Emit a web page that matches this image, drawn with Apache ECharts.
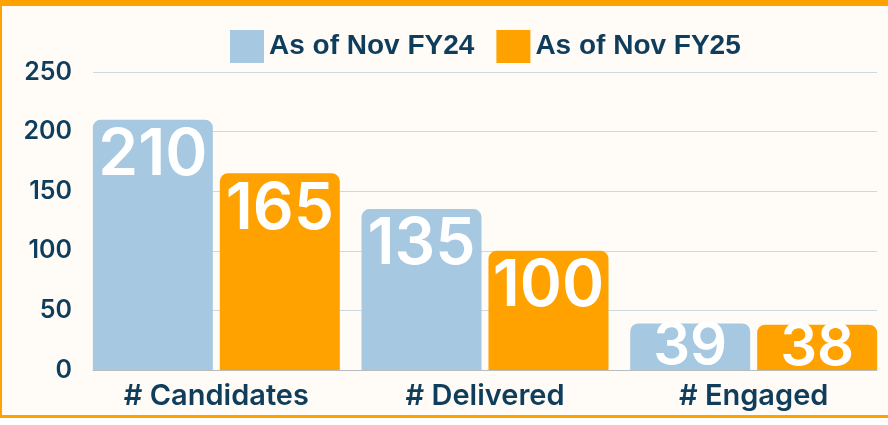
<!DOCTYPE html>
<html>
<head>
<meta charset="utf-8">
<script src="https://cdn.jsdelivr.net/npm/echarts@6/dist/echarts.min.js"></script>
<style>
    html, body { margin: 0; padding: 0; background: #ffffff; }
    #frame {
        position: absolute; left: 0; top: 0;
        width: 888px; height: 418px; box-sizing: border-box;
        background: #fffbf6;
        border-top: 6px solid #ffa200;
        border-left: 2px solid #ffa200;
        border-bottom: 3px solid #ffa200;
    }
    #main { position: absolute; left: 0; top: 0; width: 888px; height: 425px; }
</style>
</head>
<body>
<div id="frame"></div>
<div id="main"></div>
<script>
const categories = ['# Candidates', '# Delivered', '# Engaged'];
const seriesNames = ['As of Nov FY24', 'As of Nov FY25'];
const fy24 = [210, 135, 39];
const fy25 = [165, 100, 38];
const yTicks = [0, 50, 100, 150, 200, 250];

const navy = '#0f3d5c';
const colors = ['#a6c8e1', '#ffa200'];

function toItems (values) {
    // short bars get a smaller centred label
    return values.map(v => v < 50
        ? { value: v, label: { position: 'inside', fontSize: 58 } }
        : { value: v });
}

const myChart = echarts.init(document.getElementById('main'));
myChart.setOption({
    backgroundColor: 'transparent',
    color: colors,
    animation: false,
    legend: {
        data: seriesNames,
        left: 225,
        top: 25,
        itemWidth: 34,
        itemHeight: 33,
        itemGap: 22,
        icon: 'rect',
        textStyle: {
            color: navy,
            fontFamily: 'Liberation Sans, Arial, sans-serif',
            fontWeight: 'bold',
            fontSize: 28,
            padding: [0, 0, 0, 0]
        }
    },
    grid: [
        { left: 82, right: 0, top: 72, bottom: 55 },
        { left: 93, right: 11, top: 72, bottom: 55 }
    ],
    xAxis: [
        {
            type: 'category',
            gridIndex: 0,
            data: categories,
            axisLine: { show: false },
            axisTick: { show: false },
            axisLabel: {
                color: navy,
                fontFamily: 'Inter, sans-serif',
                fontWeight: 600,
                fontSize: 29,
                margin: 12
            }
        },
        {
            type: 'value',
            gridIndex: 1,
            axisLine: { show: true, lineStyle: { color: '#b8bcbf', width: 1 } },
            axisTick: { show: false },
            axisLabel: { show: false },
            splitLine: { show: false }
        }
    ],
    yAxis: [
        {
            type: 'value',
            gridIndex: 0,
            min: 0,
            max: yTicks[yTicks.length - 1],
            interval: 50,
            show: false
        },
        {
            type: 'value',
            gridIndex: 1,
            min: 0,
            max: yTicks[yTicks.length - 1],
            interval: 50,
            axisLine: { show: false },
            axisTick: { show: false },
            axisLabel: {
                color: navy,
                fontFamily: 'Inter, sans-serif',
                fontWeight: 600,
                fontSize: 25,
                margin: 21
            },
            splitLine: { lineStyle: { color: '#cdd8e0', width: 1 } }
        }
    ],
    series: [fy24, fy25].map((vals, i) => ({
        name: seriesNames[i],
        type: 'bar',
        xAxisIndex: 0,
        yAxisIndex: 0,
        barWidth: 120,
        barGap: '5.8%',
        data: toItems(vals),
        itemStyle: { borderRadius: [8, 8, 0, 0] },
        label: {
            show: true,
            position: 'insideTop',
            distance: 4,
            color: '#ffffff',
            fontFamily: 'Inter, sans-serif',
            fontWeight: 600,
            fontSize: 64
        }
    }))
});
</script>
</body>
</html>
